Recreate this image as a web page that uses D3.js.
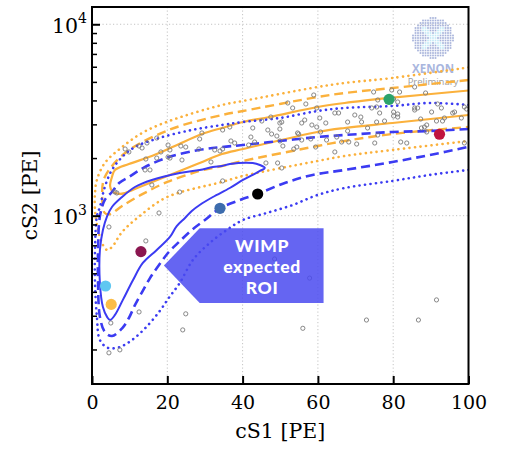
<!DOCTYPE html>
<html><head><meta charset="utf-8">
<script src="https://cdn.jsdelivr.net/npm/d3@7"></script>
<style>
html,body{margin:0;padding:0;background:#fff;}
svg{display:block;}
</style></head><body>
<svg id="chart" width="510" height="449"></svg>
<script>
// ---- axis ticks ----
const cs1Ticks = [0, 20, 40, 60, 80, 100];
const cs2Major = [1000, 10000];
const cs2Minor = [200, 300, 400, 500, 600, 700, 800, 900, 2000, 3000, 4000, 5000, 6000, 7000, 8000, 9000];

// ---- ER band contours [cS1, cS2]: upper edge from high cS1, round the low-cS1 end, back along the lower edge ----
const erSolid = [[100,4508],[79.8,4135],[67.1,3880],[59.9,3697],[47.2,3277],[40.1,3085],[34.5,2872],[29.2,2671],[22,2312],[15.9,2050],[9.8,1862],[6.1,1733],[5.3,1593],[4.8,1430],[5.3,1346],[7.2,1299],[8.8,1314],[13.3,1430],[22,1672],[28.6,1885],[34.5,2100],[40.1,2230],[59.9,2737],[67.1,2872],[79.8,3049],[100,3357]];
const erDashed = [[100,5115],[79.8,4645],[67.1,4375],[59.9,4168],[40.1,3522],[34.5,3357],[20.4,2803],[8.8,2127],[3.4,1593],[2.7,1314],[3.4,1033],[4.8,1020],[8,1123],[13.5,1299],[20,1500],[28.6,1712],[34.5,1818],[40.1,1931],[59.9,2312],[67.1,2456],[79.8,2671],[100,2906]];
const erDotted = [[100,5950],[79.8,5240],[67.1,4934],[59.9,4701],[40.1,3974],[34.5,3787],[20,3097],[13.3,2704],[8,2284],[3.4,1885],[1.3,1537],[0.8,1314],[0.8,1071],[1.6,842],[2.9,703],[4,662],[5.3,686],[8,822],[12.5,990],[20,1252],[34.5,1500],[40.1,1612],[59.9,1931],[67.1,2050],[79.8,2204],[100,2456]];

// ---- WIMP signal contours [cS1, cS2] ----
const nrSolid = [[45.9,1775],[44.6,1840],[42.7,1885],[36.6,1862],[34.5,1818],[32.1,1796],[28.6,1733],[23.3,1672],[15.9,1537],[11.4,1412],[8,1252],[5.3,1110],[4,992],[2.9,842],[2.1,662],[2.1,445],[2.9,333],[4,296],[4.8,285],[6.1,303],[8.2,363],[10.9,461],[13.5,566],[17.2,662],[20.7,774],[22.5,883],[24.7,973],[26.5,1058],[28.6,1137],[32.1,1252],[36.6,1395],[40.1,1537],[42.7,1632],[44.6,1712]];
const nrDashed = [[100,2837],[89.7,2770],[79.8,2737],[67.1,2639],[59.9,2576],[49.9,2456],[40.1,2340],[34.5,2284],[28.4,2204],[20.4,2025],[14.1,1796],[9.8,1593],[7.2,1482],[5.3,1329],[3.4,1208],[2.1,992],[1.6,662],[1.6,445],[2.1,296],[3.4,247],[5.3,235],[8,258],[9.8,292],[11.4,341],[13.3,399],[15.4,472],[17.8,553],[20.4,646],[23.1,729],[26.5,842],[30,950],[34,1093],[39.3,1208],[44,1298],[51.2,1482],[58.6,1632],[67.1,1733],[79.8,1907],[89.7,2075],[100,2290]];
const nrDotted = [[100,3787],[89.7,3880],[79.8,3742],[67.1,3653],[59.9,3522],[49.9,3238],[40.1,3085],[34.5,2977],[26.5,2803],[17.8,2545],[11.4,2284],[8,2025],[5.3,1733],[3.4,1412],[2.1,1110],[1.3,992],[0.8,662],[0.8,445],[1.3,296],[2.1,224],[4.2,204],[7.4,206],[10.6,224],[14.1,258],[17.8,314],[20.4,372],[23.3,445],[26.8,587],[31.3,721],[35.8,842],[40.1,950],[46.4,1033],[53.3,1137],[59.9,1283],[67.1,1395],[79.8,1519],[89.7,1632],[100,1733]];

// ---- observed events [cS1, cS2] ----
const events = [
[58.9,4270],[52.0,3880],[56.8,3833],[53.3,3653],[59.7,3653],[47.5,3277],[45.1,3123],[49.9,3049],[50.4,3085],[55.7,3049],[56.5,3161],[60.5,3238],[64.5,3439],[36.6,2906],[34.7,2803],[42.7,2872],[46.7,2803],[49.9,2837],[58.4,2977],[59.7,2906],[62.1,3049],[47.7,2671],[49.1,2607],[54.9,2671],[60.7,2737],[42.2,2576],[36.9,2456],[37.9,2397],[43.2,2426],[41.6,2340],[34.7,2230],[55.7,2485],[58.1,2516],[62.3,2485],[65.0,2576],[50.7,2312],[54.4,2284],[53.6,2230],[59.4,2284],[64.5,2152],[46.2,1885],[49.3,1885],[50.4,1775],[34.7,1519],[54.6,2704],
[74.8,4427],[79.6,4535],[81.7,4427],[85.7,4701],[88.6,4375],[75.9,4022],[80.1,4071],[81.2,3927],[75.6,3697],[74.3,3653],[85.7,3653],[86.5,3653],[92.8,3653],[91.8,3833],[98.9,3697],[96.3,3480],[90.2,3480],[69.8,3357],[71.4,3277],[76.4,3439],[80.1,3480],[81.2,3398],[80.1,3317],[67.9,3085],[75.6,3085],[77.7,3123],[81.2,3277],[87.3,3199],[91.5,3123],[93.6,3238],[98.1,3238],[88.9,2977],[87.5,2872],[88.3,2906],[73.2,2872],[67.9,2770],[88.9,2737],[75.9,2639],[68.2,2426],[75.1,2397],[82.0,2426],[70.3,2368],
[29.2,2704],[28.6,2516],[17.2,2545],[14.6,2397],[12.5,2312],[13.3,2258],[8.8,2230],[9.8,2152],[18.3,2152],[20.7,2204],[20.2,2340],[23.6,2312],[24.9,2284],[28.4,2230],[32.6,2204],[34.0,2178],[14.3,1977],[17.2,2000],[20.2,2025],[20.7,2000],[23.9,1954],[15.4,1733],[14.1,1733],[31.6,1907],[6.1,1329],[6.6,1314],[15.9,1447],[23.3,1329],[17.8,1033],
[65.5,3439],[71.6,3085],[85.7,3565],[95.8,3439],[83.6,2397],[66.3,2426],[49.9,2456],[93.1,3123],[99.5,3608],[98.9,2397],
[12.5,314],[24.9,307],[24.1,253],[5.0,275],[4.5,192],[7.4,199],[4.5,873],[14.3,738],[48.5,594],[57.8,472],[43.8,404],[56.0,258],[72.9,285],[86.7,285],[91.5,363]
];

// ---- highlighted events [cS1, cS2] and their colours ----
const highlightPoints = [[3.6,429],[5.1,344],[13.0,649],[34.0,1093],[44.0,1298],[78.9,4053],[92.3,2663]];
const highlightColors = ["#5fc7f1","#fbbd48","#8b1650","#3d6cad","#000000","#2ba36c","#c01440"];

// ---- layout ----
const svg = d3.select("#chart");
const L = 92, R = 468.5, T = 7, B = 384;
const x = d3.scaleLinear().domain([0, 100]).range([L, R]);
const y = d3.scaleLog().domain([132, 12310]).range([B, T]);
const serif = "'DejaVu Serif', serif";

svg.append("defs").append("clipPath").attr("id", "plotArea")
  .append("rect").attr("x", L).attr("y", T).attr("width", R - L).attr("height", B - T);

// grid
const grid = svg.append("g").attr("stroke", "#c4c4c4").attr("stroke-width", 1).attr("stroke-dasharray", "1.2,2.3");
grid.selectAll(".gx").data(cs1Ticks.slice(1, -1)).join("line")
  .attr("x1", d => x(d)).attr("x2", d => x(d)).attr("y1", T).attr("y2", B);
grid.selectAll(".gy").data(cs2Major).join("line")
  .attr("x1", L).attr("x2", R).attr("y1", d => y(d)).attr("y2", d => y(d));

// XENON mark
const logo = svg.append("g").attr("transform", "translate(433,38)");
const cells = [];
for (let i = -8; i <= 8; i++) for (let j = -8; j <= 8; j++) {
  const cx = i * 2.5, cy = j * 2.5;
  if (cx * cx + cy * cy <= 20.5 * 20.5) cells.push([cx, cy]);
}
logo.selectAll("rect").data(cells).join("rect")
  .attr("x", d => d[0] - 0.85).attr("y", d => d[1] - 0.85)
  .attr("width", 1.7).attr("height", 1.7)
  .attr("fill", d => (Math.abs(Math.abs(d[0]) - Math.abs(d[1])) < 3.2 && d[0]*d[0] + d[1]*d[1] < 16*16) ? "#c3e8f5" : "#a6b2da");
svg.append("text").attr("x", 433).attr("y", 73).attr("text-anchor", "middle")
  .attr("font-family", "'Open Sans', sans-serif").attr("font-weight", 700).attr("font-size", 11.5)
  .attr("fill", "#a9b6de").text("XENON");
svg.append("text").attr("x", 433).attr("y", 85).attr("text-anchor", "middle")
  .attr("font-family", "'Open Sans', sans-serif").attr("font-size", 9.5)
  .attr("fill", "#9c9c9c").text("Preliminary");

// contours
const plot = svg.append("g").attr("clip-path", "url(#plotArea)");
const open = d3.line().x(d => x(d[0])).y(d => y(d[1])).curve(d3.curveCatmullRom.alpha(0.5));
const closed = d3.line().x(d => x(d[0])).y(d => y(d[1])).curve(d3.curveCatmullRomClosed.alpha(0.5));
const orange = "#fbb13c", blue = "#3b3bf2";
const contours = [
  {d: erDotted, c: orange, w: 2.6, dash: "0.1,5.4", cap: "round", gen: open},
  {d: erDashed, c: orange, w: 2.4, dash: "9,5", cap: "butt", gen: open},
  {d: erSolid,  c: orange, w: 2.2, dash: null, cap: "butt", gen: open},
  {d: nrDotted, c: blue, w: 2.6, dash: "0.1,5.4", cap: "round", gen: open},
  {d: nrDashed, c: blue, w: 2.6, dash: "9,5", cap: "butt", gen: open},
  {d: nrSolid,  c: blue, w: 2.0, dash: null, cap: "butt", gen: closed}
];
contours.forEach(k => {
  plot.append("path").attr("d", k.gen(k.d)).attr("fill", "none")
    .attr("stroke", k.c).attr("stroke-width", k.w).attr("stroke-linecap", k.cap)
    .attr("stroke-linejoin", "round").attr("stroke-dasharray", k.dash);
});

// events
plot.append("g").selectAll("circle").data(events).join("circle")
  .attr("cx", d => x(d[0])).attr("cy", d => y(d[1])).attr("r", 2.1)
  .attr("fill", "none").attr("stroke", "#7a7a7a").attr("stroke-width", 0.9);

plot.append("g").selectAll("circle").data(highlightPoints).join("circle")
  .attr("cx", d => x(d[0])).attr("cy", d => y(d[1])).attr("r", 5.6)
  .attr("fill", (d, i) => highlightColors[i]);

// ROI callout
const roi = {tip: 19.1, corner: 28.6, right: 61.5, top: 860, bottom: 350};
const tipY = Math.sqrt(roi.top * roi.bottom);
const arrow = [[roi.tip, tipY], [roi.corner, roi.top], [roi.right, roi.top], [roi.right, roi.bottom], [roi.corner, roi.bottom]];
svg.append("path").attr("d", d3.line().x(d => x(d[0])).y(d => y(d[1]))(arrow) + "Z")
  .attr("fill", "#4a4af0").attr("fill-opacity", 0.85);
const cxText = (x(roi.corner) + x(roi.right)) / 2 + 0.5, cyText = y(tipY);
const roiText = svg.append("g").attr("text-anchor", "middle").attr("fill", "#fff")
  .attr("font-family", "Lato, sans-serif").attr("font-weight", 900).attr("font-size", 17.5)
  .attr("letter-spacing", 0.7);
["WIMP", "expected", "ROI"].forEach((t, i) => {
  roiText.append("text").attr("x", cxText).attr("y", cyText - 14 + i * 21.4).text(t);
});

// frame
svg.append("rect").attr("x", L).attr("y", T).attr("width", R - L).attr("height", B - T)
  .attr("fill", "none").attr("stroke", "#000").attr("stroke-width", 2);

// x axis
const xAxis = svg.append("g").attr("transform", `translate(0,${B})`)
  .call(d3.axisBottom(x).tickValues(cs1Ticks).tickSizeInner(-8).tickSizeOuter(0).tickPadding(12).tickFormat(d3.format("d")));
xAxis.select(".domain").remove();
xAxis.selectAll("line").attr("stroke", "#000").attr("stroke-width", 2);
xAxis.selectAll("text").attr("font-family", serif).attr("font-size", 19).attr("fill", "#000");

// y axis
const yAxis = svg.append("g").attr("transform", `translate(${L},0)`)
  .call(d3.axisLeft(y).tickValues(cs2Major).tickSizeInner(-8).tickSizeOuter(0).tickFormat(""));
yAxis.select(".domain").remove();
yAxis.selectAll("line").attr("stroke", "#000").attr("stroke-width", 2);
const yMinor = svg.append("g").attr("transform", `translate(${L},0)`)
  .call(d3.axisLeft(y).tickValues(cs2Minor).tickSizeInner(-5).tickSizeOuter(0).tickFormat(""));
yMinor.select(".domain").remove();
yMinor.selectAll("line").attr("stroke", "#000").attr("stroke-width", 1.5);

cs2Major.forEach(v => {
  const t = svg.append("text").attr("x", L - 5).attr("y", y(v) + 8.7).attr("text-anchor", "end")
    .attr("font-family", serif).attr("font-size", 20.5).attr("fill", "#000");
  t.append("tspan").text("10");
  t.append("tspan").attr("dy", -9.5).attr("font-size", 14).text(String(Math.round(Math.log10(v))));
});

// axis titles
svg.append("text").attr("x", (L + R) / 2).attr("y", 438).attr("text-anchor", "middle")
  .attr("font-family", serif).attr("font-size", 20.5).attr("fill", "#000").text("cS1 [PE]");
svg.append("text").attr("transform", `translate(37,${(T + B) / 2}) rotate(-90)`).attr("text-anchor", "middle")
  .attr("font-family", serif).attr("font-size", 20.5).attr("fill", "#000").text("cS2 [PE]");
</script>
</body></html>
